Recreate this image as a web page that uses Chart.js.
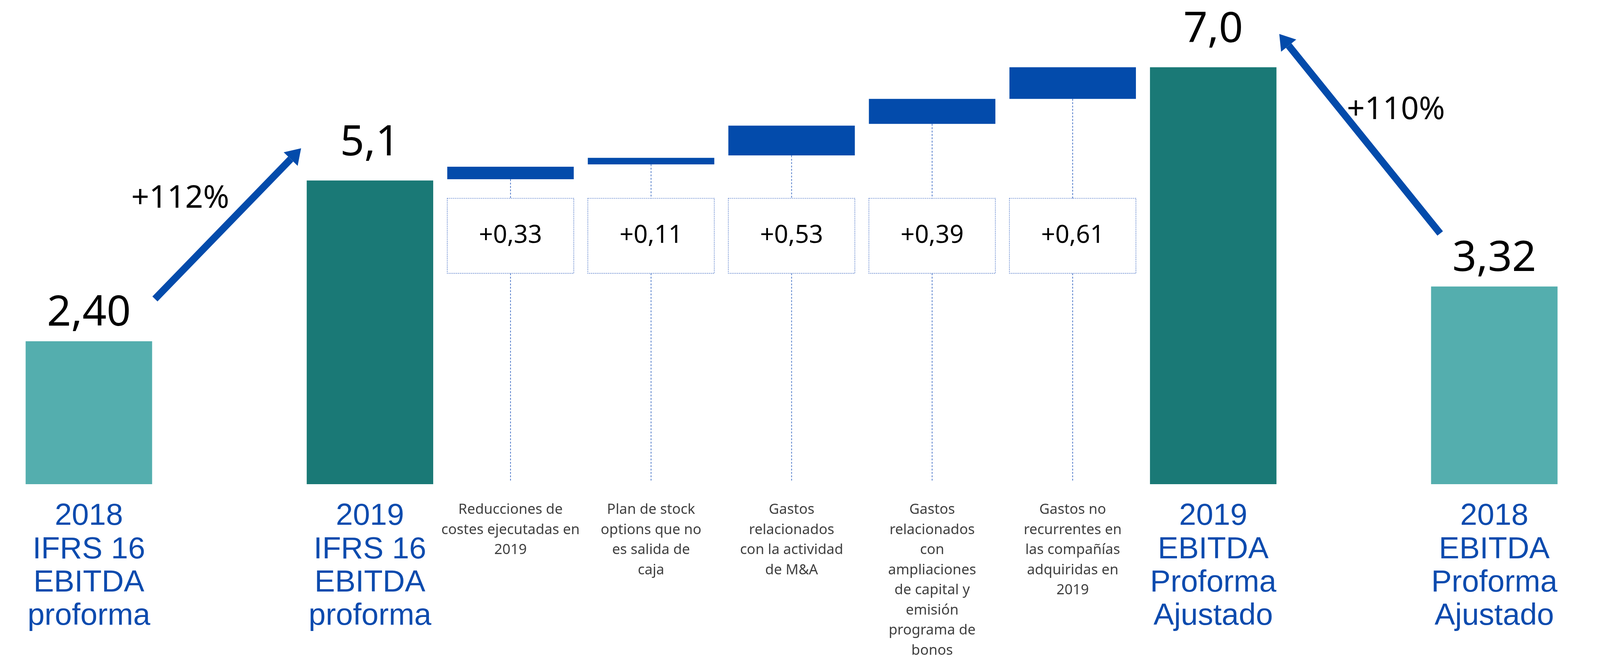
<!DOCTYPE html>
<html lang="es">
<head>
<meta charset="utf-8">
<title>EBITDA proforma 2018 - 2019</title>
<script src="https://cdn.jsdelivr.net/npm/chart.js@4.4.1/dist/chart.umd.min.js"></script>
<style>
  html, body { margin: 0; padding: 0; background: #fff; overflow: hidden; }
  #wrap { width: 100vw; height: 100vh; position: relative; }
</style>
</head>
<body>
<div id="wrap"><canvas id="ebitdaChart"></canvas></div>
<script>
// categories ('' = empty slot between groups)
const categories = [
  ['2018', 'IFRS 16', 'EBITDA', 'proforma'],
  '',
  ['2019', 'IFRS 16', 'EBITDA', 'proforma'],
  ['Reducciones de', 'costes ejecutadas en', '2019'],
  ['Plan de stock', 'options que no', 'es salida de', 'caja'],
  ['Gastos', 'relacionados', 'con la actividad', 'de M&A'],
  ['Gastos', 'relacionados', 'con', 'ampliaciones', 'de capital y', 'emisión', 'programa de', 'bonos'],
  ['Gastos no', 'recurrentes en', 'las compañías', 'adquiridas en', '2019'],
  ['2019', 'EBITDA', 'Proforma', 'Ajustado'],
  '',
  ['2018', 'EBITDA', 'Proforma', 'Ajustado']
];

const totals      = [2.40, null, 5.1, null, null, null, null, null, 7.0, null, 3.32];
const totalLabels = ['2,40', '', '5,1', '', '', '', '', '', '7,0', '', '3,32'];

// floating steps
const stepFrom   = [null, null, null, 5.12, 5.37, 5.52, 6.05, 6.47, null, null, null];
const stepTo     = [null, null, null, 5.33, 5.48, 6.02, 6.47, 7.00, null, null, null];
const stepLabels = ['', '', '', '+0,33', '+0,11', '+0,53', '+0,39', '+0,61', '', '', ''];

// growth arrows: from category -> to category
const growthFrom   = [0, 10];
const growthTo     = [2, 8];
const growthLabels = ['+112%', '+110%'];

const LIGHT = '#54aeae';
const DARK = '#1a7976';
const STEP = '#034bab';
const LABEL_BLUE = '#0d4bae';

// sizes were measured on a 4471x1698 picture; the window may be narrower
const kx = window.innerWidth / 4471;
const ky = window.innerHeight / 1698;
const kf = (kx + ky) / 2;
const sx = v => v * kx;
const sy = v => v * ky;
const sf = v => v * kf;

function isTotal(i) {
  return totals[i] != null;
}

function drawArrow(ctx, x1, y1, x2, y2) {
  const ang = Math.atan2(y2 - y1, x2 - x1);
  const headLen = sf(40), headW = sf(52);
  const bx = x2 - headLen * Math.cos(ang);
  const by = y2 - headLen * Math.sin(ang);
  ctx.strokeStyle = STEP;
  ctx.fillStyle = STEP;
  ctx.lineWidth = sf(19);
  ctx.lineCap = 'butt';
  ctx.setLineDash([]);
  ctx.beginPath();
  ctx.moveTo(x1, y1);
  ctx.lineTo(bx, by);
  ctx.stroke();
  ctx.beginPath();
  ctx.moveTo(x2, y2);
  ctx.lineTo(bx + headW / 2 * Math.sin(ang), by - headW / 2 * Math.cos(ang));
  ctx.lineTo(bx - headW / 2 * Math.sin(ang), by + headW / 2 * Math.cos(ang));
  ctx.closePath();
  ctx.fill();
}

const overlay = {
  id: 'overlay',
  afterDatasetsDraw(chart) {
    const { ctx, scales: { x, y } } = chart;
    const slot = x.width / categories.length;
    const at = (i, off) => x.getPixelForValue(i) + off * slot;
    const zero = y.getPixelForValue(0);

    ctx.save();

    // value above each total bar
    ctx.font = sf(113) + 'px "Noto Sans"';
    ctx.fillStyle = '#000';
    ctx.textAlign = 'center';
    ctx.textBaseline = 'alphabetic';
    chart.getDatasetMeta(0).data.forEach((bar, i) => {
      if (!isTotal(i)) return;
      const gap = categories[i][0] === '2018' ? sy(40) : sy(64);
      ctx.fillText(totalLabels[i], bar.x, bar.y - gap);
    });

    // boxes + guide lines for the steps
    const boxTop = y.getPixelForValue(4.80);
    const boxBottom = y.getPixelForValue(3.54);
    chart.getDatasetMeta(1).data.forEach((bar, i) => {
      if (stepFrom[i] == null) return;
      ctx.strokeStyle = '#4a76c8';
      ctx.lineWidth = sf(2);
      ctx.setLineDash([sf(5), sf(4)]);
      ctx.beginPath();
      ctx.moveTo(bar.x, bar.base);
      ctx.lineTo(bar.x, boxTop);
      ctx.moveTo(bar.x, boxBottom);
      ctx.lineTo(bar.x, zero - sy(6));
      ctx.stroke();

      ctx.strokeStyle = '#7d9ad6';
      ctx.setLineDash([sf(3), sf(2)]);
      ctx.strokeRect(bar.x - bar.width / 2, boxTop, bar.width, boxBottom - boxTop);

      ctx.font = sf(66) + 'px "Noto Sans"';
      ctx.fillStyle = '#000';
      ctx.textBaseline = 'middle';
      ctx.fillText(stepLabels[i], bar.x, (boxTop + boxBottom) / 2);
    });

    // growth arrows
    drawArrow(ctx, at(growthFrom[0], 0.47), y.getPixelForValue(3.11),
                   at(growthTo[0], -0.49), y.getPixelForValue(5.64));
    drawArrow(ctx, at(growthFrom[1], -0.385), y.getPixelForValue(4.21),
                   at(growthTo[1], 0.47), y.getPixelForValue(7.56));

    ctx.font = sf(84) + 'px "Noto Sans"';
    ctx.fillStyle = '#000';
    ctx.textBaseline = 'middle';
    ctx.fillText(growthLabels[0], at(growthFrom[0], 0.65), y.getPixelForValue(4.79));
    ctx.fillText(growthLabels[1], at(growthFrom[1], -0.70), y.getPixelForValue(6.28));

    ctx.restore();
  }
};

new Chart(document.getElementById('ebitdaChart'), {
  type: 'bar',
  data: {
    labels: categories,
    datasets: [
      {
        label: 'EBITDA',
        data: totals,
        grouped: false,
        backgroundColor: ctx => categories[ctx.dataIndex] && categories[ctx.dataIndex][0] === '2018' ? LIGHT : DARK
      },
      {
        label: 'Ajustes',
        data: stepFrom.map((v, i) => v == null ? null : [v, stepTo[i]]),
        grouped: false,
        backgroundColor: STEP
      }
    ]
  },
  options: {
    responsive: true,
    maintainAspectRatio: false,
    animation: false,
    layout: { padding: { left: sx(52), right: sx(99), top: 0, bottom: 0 } },
    datasets: {
      bar: { categoryPercentage: 1, barPercentage: 0.9 }
    },
    plugins: {
      legend: { display: false },
      tooltip: { enabled: false }
    },
    scales: {
      x: {
        grid: { display: false },
        border: { display: false },
        ticks: {
          autoSkip: false,
          maxRotation: 0,
          minRotation: 0,
          padding: sy(32),
          color: ctx => isTotal(ctx.index) ? LABEL_BLUE : '#404040',
          font: ctx => isTotal(ctx.index)
            ? { family: '"Liberation Sans", Arial, sans-serif', size: sf(82), lineHeight: 1.04 * ky / kf }
            : { family: '"Noto Sans", sans-serif', size: sf(38), lineHeight: 1.355 * ky / kf }
        },
        afterFit(scale) { scale.height = sy(458); }
      },
      y: { display: false, min: 0, max: 8.13 }
    }
  },
  plugins: [overlay]
});
</script>
</body>
</html>
